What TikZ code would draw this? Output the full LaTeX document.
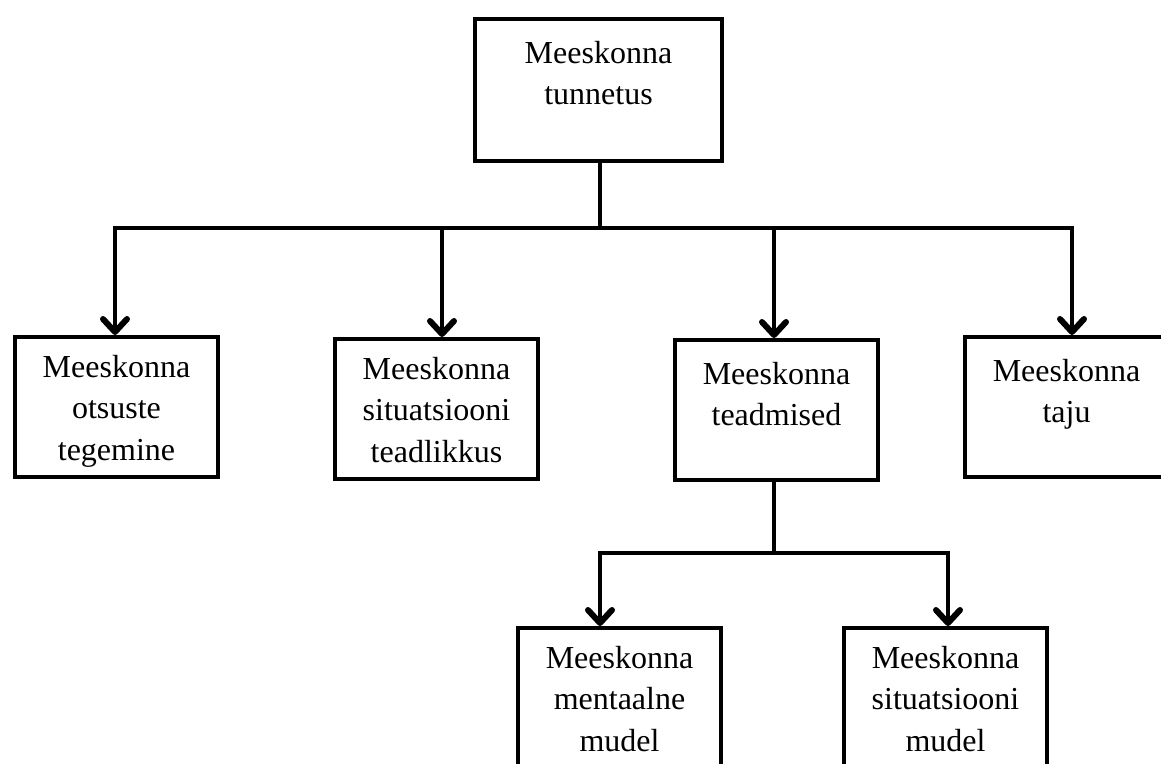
\documentclass[tikz,border=0pt]{standalone}
\usepackage{fontspec}
\setmainfont{Liberation Serif}
\usetikzlibrary{arrows.meta}

\begin{document}
\begin{tikzpicture}[
    x=1pt, y=-1pt,
    >={Straight Barb[length=13pt,width=24pt,line width=6pt,round]},
    box/.style={draw, line width=4pt, anchor=north, inner sep=0pt,
        text width=203pt, align=center, text height=40pt, text depth=100pt,
        font=\fontsize{32}{41.5}\selectfont},
    twoline/.style={text height=44pt, text depth=96pt},
    link/.style={line width=4pt}
]
    \useasboundingbox (0,0) rectangle (1161,763);

    % --- Boxes ---
    \node[box, twoline, text width=247pt, text depth=98pt] (tunnetus) at (598.5,17) {Meeskonna\\tunnetus};

    \node[box] (otsused) at (116.5,335) {Meeskonna\\otsuste\\tegemine};
    \node[box] (teadlikkus) at (436.5,337) {Meeskonna\\situatsiooni\\teadlikkus};
    \node[box, twoline] (teadmised) at (776.5,338) {Meeskonna\\teadmised};
    \node[box, twoline] (taju) at (1066.5,335) {Meeskonna\\taju};

    \node[box] (mentaalne) at (619.5,626) {Meeskonna\\mentaalne\\mudel};
    \node[box] (sitmudel) at (945.5,626) {Meeskonna\\situatsiooni\\mudel};

    % --- Branch points ---
    \coordinate (fork) at (600,228);
    \coordinate (j1) at (115,228);
    \coordinate (j2) at (442,228);
    \coordinate (j3) at (774,228);
    \coordinate (j4) at (1072,228);

    \coordinate (fork2) at (774,553);
    \coordinate (k1) at (600,553);
    \coordinate (k2) at (948,553);

    % --- Wiring, upper level ---
    \draw[link] (tunnetus.south -| fork) -- (fork);
    \draw[link,->] (fork) -- (j1) -- (j1 |- otsused.north);
    \draw[link,->] (fork) -- (j4) -- (j4 |- taju.north);
    \draw[link,->] (j2) -- (j2 |- teadlikkus.north);
    \draw[link,->] (j3) -- (j3 |- teadmised.north);

    % --- Wiring, lower level ---
    \draw[link] (teadmised.south -| fork2) -- (fork2);
    \draw[link,->] (fork2) -- (k1) -- (k1 |- mentaalne.north);
    \draw[link,->] (fork2) -- (k2) -- (k2 |- sitmudel.north);

\end{tikzpicture}
\end{document}
